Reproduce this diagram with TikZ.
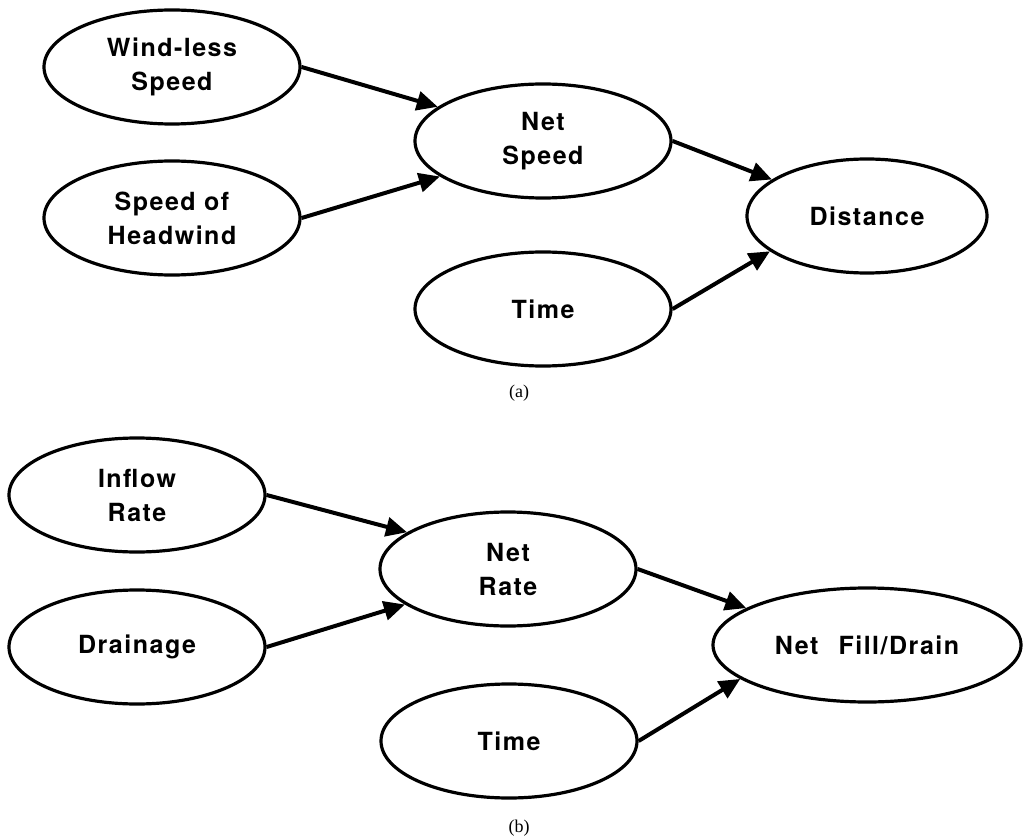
\documentclass[tikz,border=0pt]{standalone}
\usepackage{fontspec}
\newfontfamily\lblfont[LetterSpace=6]{TeX Gyre Heros}
\newfontfamily\capfont{Liberation Serif}
\usetikzlibrary{arrows.meta,shapes.geometric}

\begin{document}
\begin{tikzpicture}[x=1pt,y=-1pt,
  bubble/.style={draw, line width=3.2pt, ellipse, minimum width=256pt,
    minimum height=114pt, inner sep=0pt, align=center,
    font=\lblfont\bfseries\fontsize{25}{34}\selectfont},
  link/.style={line width=4pt, -{Triangle[length=21pt,width=19pt]}},
  caption/.style={font=\capfont\fontsize{18}{20}\selectfont}]

  \useasboundingbox (0,0) rectangle (1023,837);

  % (a) distance from speed and time
  \node[bubble] (wl) at (172,67) {Wind-less\\Speed};
  \node[bubble] (sh) at (172,218) {Speed of\\Headwind};
  \node[bubble] (ns) at (543,141) {Net\\Speed};
  \node[bubble, minimum width=240pt] (dist) at (867,216) {Distance};
  \node[bubble] (ta) at (543,309) {Time};
  \node[caption] (capa) at (519,393) {(a)};

  \draw[link] (wl.east) -- (ns.162);
  \draw[link] (sh.east) -- (ns.199);
  \draw[link] (ns.east) -- (dist.159);
  \draw[link] (ta.east) -- (dist.200);

  % (b) net fill or drain from rates and time
  \node[bubble] (ir) at (137,495) {Inflow\\Rate};
  \node[bubble] (dr) at (137,647) {Drainage};
  \node[bubble] (nr) at (508,569) {Net\\Rate};
  \node[bubble, minimum width=308pt] (nfd) at (867,645) {Net\hspace{20pt}Fill/Drain};
  \node[bubble] (tb) at (509,741) {Time};
  \node[caption] (capb) at (519,828) {(b)};

  \draw[link] (ir.east) -- (nr.160);
  \draw[link] (dr.east) -- (nr.199);
  \draw[link] (nr.east) -- (nfd.163);
  \draw[link] (tb.east) -- (nfd.195);
\end{tikzpicture}
\end{document}
